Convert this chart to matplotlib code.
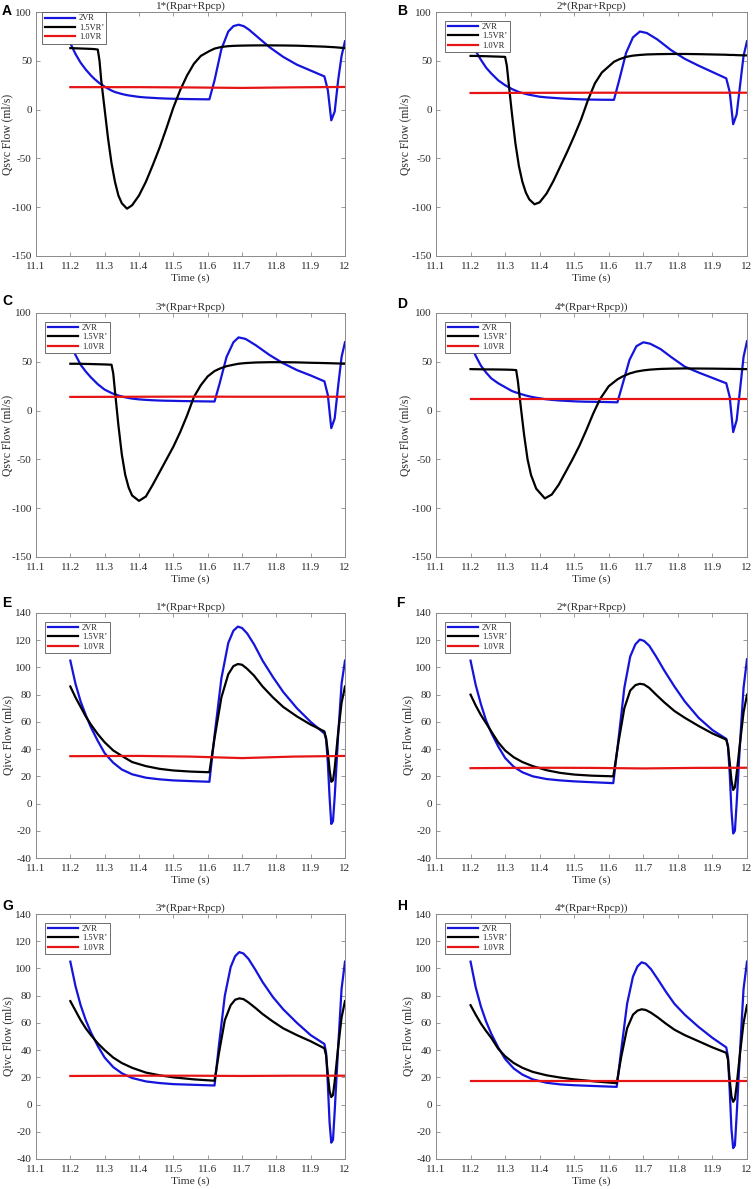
import matplotlib
matplotlib.use("Agg")
import matplotlib.pyplot as plt

# ---------------- STYLE ----------------
SERIF = "Liberation Serif"
TICK_FS = 8
LABEL_FS = 8.2
YLABEL_FS = 8.4
TITLE_FS = 8
LEGEND_FS = 6
LETTER_FS = 10
BLUE = "#1414dc"
BLACK = "#000000"
RED = "#e61414"
AXIS_GRAY = "#8a8a8a"
TEXT_GRAY = "#2a2a2a"

plt.rcParams["font.family"] = [SERIF, "DejaVu Serif"]
plt.rcParams["axes.unicode_minus"] = False

# ---------------- DATA ----------------
X_TICKS = [11.1, 11.2, 11.3, 11.4, 11.5, 11.6, 11.7, 11.8, 11.9, 12.0]
X_TICK_LABELS = ["11.1", "11.2", "11.3", "11.4", "11.5", "11.6", "11.7", "11.8", "11.9", "12"]
SVC_YTICKS = [-150, -100, -50, 0, 50, 100]
IVC_YTICKS = [-40, -20, 0, 20, 40, 60, 80, 100, 120, 140]

LEGEND_LABELS = ["2VR", "1.5VR\u2019", "1.0VR"]
TITLES = ["1*(Rpar+Rpcp)", "2*(Rpar+Rpcp)", "3*(Rpar+Rpcp)", "4*(Rpar+Rpcp))",
          "1*(Rpar+Rpcp)", "2*(Rpar+Rpcp)", "3*(Rpar+Rpcp)", "4*(Rpar+Rpcp))"]
LETTERS = ["A", "B", "C", "D", "E", "F", "G", "H"]

RED_T = [11.2, 11.4, 11.55, 11.7, 11.85, 12.0]

# --- A: Qsvc, 1*(Rpar+Rpcp)
T_A = [11.200, 11.215, 11.230, 11.245, 11.260, 11.270, 11.280, 11.285, 11.290, 11.300,
       11.310, 11.320, 11.330, 11.340, 11.350, 11.365, 11.380, 11.400, 11.420, 11.440,
       11.460, 11.480, 11.500, 11.520, 11.540, 11.560, 11.580, 11.605, 11.620, 11.640,
       11.660, 11.675, 11.690, 11.705, 11.720, 11.750, 11.780, 11.820, 11.860, 11.900,
       11.940, 11.950, 11.960, 11.970, 11.980, 11.990, 12.000]
VR2_A = [68, 57, 48, 41, 35, 31.5, 28.5, 27, 26, 23.5,
         21.5, 19.5, 18, 17, 16, 14.8, 14, 13, 12.4, 12,
         11.6, 11.3, 11.1, 11, 10.8, 10.7, 10.6, 10.5, 30, 62,
         80, 85.5, 87, 85.5, 82, 73, 64, 54, 46, 40,
         34, 20, -11, -2, 30, 55, 70]
VR15_A = [63, 62.8, 62.6, 62.4, 62.2, 62, 61.5, 50, 30, 0,
          -30, -55, -74, -88, -96, -101.5, -98, -88, -74, -57,
          -39, -19, 2, 20, 35, 47, 55, 60, 62.5, 64.2,
          65, 65.3, 65.5, 65.6, 65.7, 65.8, 65.8, 65.7, 65.5, 65,
          64.5, 64.3, 64.1, 63.9, 63.6, 63.3, 63]
VR10_A = [23, 23, 22.7, 22.2, 22.8, 23.2]

# --- B: Qsvc, 2*(Rpar+Rpcp)
T_B = [11.200, 11.215, 11.230, 11.245, 11.260, 11.280, 11.300, 11.305, 11.310, 11.320,
       11.330, 11.340, 11.350, 11.360, 11.370, 11.385, 11.400, 11.420, 11.440, 11.460,
       11.480, 11.500, 11.520, 11.540, 11.560, 11.580, 11.615, 11.630, 11.650, 11.670,
       11.690, 11.710, 11.740, 11.780, 11.820, 11.860, 11.900, 11.940, 11.950, 11.960,
       11.970, 11.980, 11.990, 12.000]
VR2_B = [68, 60, 51, 43, 37, 30, 25, 24, 23, 21,
         19.5, 18, 17, 16, 15.2, 14.2, 13.2, 12.5, 12, 11.5,
         11.1, 10.8, 10.5, 10.3, 10.2, 10.1, 10, 30, 58, 74,
         80, 78.5, 72, 61, 52, 45, 38.5, 32, 18, -15,
         -5, 25, 55, 70]
VR15_B = [55, 55, 54.8, 54.7, 54.5, 54.3, 54, 45, 28, -5,
          -35, -58, -74, -85, -92, -97, -95, -86, -73, -58,
          -43, -27, -10, 10, 27, 38, 49, 51.5, 54, 55.3,
          56, 56.5, 56.8, 57, 57, 56.8, 56.5, 56.2, 56, 56,
          55.8, 55.7, 55.6, 55.5]
VR10_B = [17, 17.2, 17.3, 17.3, 17.3, 17.3]

# --- C: Qsvc, 3*(Rpar+Rpcp)
T_C = [11.200, 11.215, 11.230, 11.245, 11.260, 11.280, 11.300, 11.320, 11.325, 11.330,
       11.340, 11.350, 11.360, 11.370, 11.380, 11.400, 11.420, 11.440, 11.460, 11.480,
       11.500, 11.520, 11.540, 11.560, 11.580, 11.600, 11.620, 11.635, 11.655, 11.675,
       11.690, 11.710, 11.740, 11.780, 11.820, 11.860, 11.900, 11.940, 11.950, 11.960,
       11.970, 11.980, 11.990, 12.000]
VR2_C = [68, 57, 47, 40, 34, 27, 21.5, 18, 17.3, 16.7,
         15.5, 14.5, 13.6, 12.9, 12.3, 11.5, 11, 10.6, 10.3, 10.1,
         10, 9.8, 9.7, 9.6, 9.5, 9.4, 9.3, 28, 55, 70,
         75, 73.5, 67, 57, 48.5, 41.5, 36, 30, 16, -18,
         -8, 25, 55, 70]
VR15_C = [48, 48, 48, 47.8, 47.7, 47.5, 47.3, 47, 38, 20,
          -15, -45, -66, -79, -87, -92.5, -88, -76, -63, -50,
          -37, -22, -5, 14, 26, 35, 40.5, 43, 45.5, 47,
          48, 48.7, 49.3, 49.6, 49.6, 49.4, 49, 48.7, 48.6, 48.5,
          48.4, 48.3, 48.1, 48]
VR10_C = [14, 14.2, 14.3, 14.2, 14.2, 14.2]

# --- D: Qsvc, 4*(Rpar+Rpcp)
T_D = [11.200, 11.215, 11.230, 11.245, 11.260, 11.280, 11.300, 11.320, 11.332, 11.337,
       11.345, 11.355, 11.365, 11.375, 11.390, 11.415, 11.435, 11.455, 11.475, 11.495,
       11.515, 11.535, 11.555, 11.575, 11.600, 11.625, 11.640, 11.660, 11.680, 11.700,
       11.720, 11.750, 11.780, 11.820, 11.860, 11.900, 11.940, 11.950, 11.960, 11.970,
       11.980, 11.990, 12.000]
VR2_D = [68, 56, 46, 39, 33, 28, 24, 20, 18.5, 18,
         17, 16, 15, 14.2, 13.2, 11.8, 11, 10.4, 10, 9.6,
         9.3, 9.1, 9, 8.9, 8.7, 8.5, 27, 52, 66, 70,
         68.5, 63, 55, 45, 39, 33.5, 28, 14, -22, -10,
         22, 55, 71]
VR15_D = [42.5, 42.4, 42.3, 42.2, 42.2, 42.1, 42, 41.8, 41.5, 30,
          5, -25, -50, -66, -80, -90, -86, -76, -63, -50,
          -36, -20, -3, 12, 25, 32, 35, 38, 40, 41.2,
          42, 42.7, 43, 43.2, 43.1, 43, 42.8, 42.8, 42.7, 42.7,
          42.6, 42.5, 42.5]
VR10_D = [12, 12, 12, 12, 12, 12]

# --- E: Qivc, 1*(Rpar+Rpcp)
T_E = [11.200, 11.215, 11.230, 11.245, 11.260, 11.280, 11.300, 11.325, 11.350, 11.380,
       11.420, 11.460, 11.500, 11.550, 11.605, 11.620, 11.640, 11.660, 11.675, 11.688,
       11.700, 11.715, 11.735, 11.760, 11.790, 11.820, 11.860, 11.900, 11.940, 11.945,
       11.950, 11.955, 11.960, 11.965, 11.970, 11.980, 11.990, 12.000]
VR2_E = [105, 88, 75, 65, 56, 46, 37, 30, 25, 21.5,
         19, 17.8, 17, 16.5, 16, 50, 92, 118, 127, 130,
         129, 125, 117, 105, 93, 82, 70, 60, 51.5, 47,
         30, 5, -15, -13, 5, 50, 88, 105]
VR15_E = [86, 78, 71, 64, 58, 51, 45, 39, 35, 30.5,
          27.5, 25.5, 24.3, 23.5, 23, 48, 78, 95, 101, 102.5,
          102, 99, 94, 86, 78, 71, 64, 58, 53, 48,
          38, 25, 16, 17, 26, 52, 74, 86]
VR10_E = [34.8, 35, 34.5, 33.4, 34.5, 35]

# --- F: Qivc, 2*(Rpar+Rpcp)
T_F = [11.200, 11.215, 11.230, 11.245, 11.260, 11.280, 11.300, 11.325, 11.350, 11.380,
       11.420, 11.460, 11.500, 11.550, 11.613, 11.628, 11.645, 11.662, 11.677, 11.690,
       11.702, 11.717, 11.737, 11.760, 11.790, 11.820, 11.860, 11.900, 11.940, 11.945,
       11.950, 11.955, 11.960, 11.965, 11.970, 11.980, 11.990, 12.000]
VR2_F = [105, 87, 73, 61, 52, 42, 33.5, 27, 23, 20,
         18, 17, 16.3, 15.7, 15, 47, 85, 108, 117, 120.5,
         119.5, 116, 108, 98, 86, 75, 63, 54, 47.5, 42,
         22, -5, -22, -20, 0, 45, 85, 106]
VR15_F = [80, 72, 65, 59, 53, 45, 39, 34, 30.5, 27.5,
          24.5, 22.5, 21.3, 20.5, 20, 45, 70, 83, 87, 88,
          87.5, 85, 80, 74.5, 68, 63, 57, 51.5, 47, 42,
          30, 17, 10, 12, 22, 45, 67, 80]
VR10_F = [26, 26.3, 26.2, 25.8, 26.2, 26.3]

# --- G: Qivc, 3*(Rpar+Rpcp)
T_G = [11.200, 11.215, 11.230, 11.245, 11.260, 11.280, 11.300, 11.325, 11.350, 11.380,
       11.420, 11.460, 11.500, 11.560, 11.620, 11.633, 11.650, 11.667, 11.680, 11.692,
       11.704, 11.719, 11.739, 11.760, 11.790, 11.820, 11.860, 11.900, 11.940, 11.945,
       11.950, 11.955, 11.960, 11.965, 11.970, 11.980, 11.990, 12.000]
VR2_G = [105, 87, 73, 62, 53, 43, 34.5, 27.5, 23, 19.5,
         17, 15.8, 15, 14.5, 14, 44, 80, 101, 109, 112,
         111, 107, 99, 90, 79, 70, 60, 51, 44.5, 38,
         15, -13, -28, -26, -5, 42, 85, 105]
VR15_G = [76, 69, 62, 56, 51, 45, 40, 34.5, 30.5, 27,
          23.5, 21.5, 20, 18.5, 17.5, 38, 62, 73, 77, 78,
          77.5, 75, 71, 66.5, 61, 56, 51, 46.5, 41.3, 36,
          22, 10, 5.5, 7, 17, 42, 64, 76]
VR10_G = [21, 21.2, 21.2, 21, 21.2, 21.2]

# --- H: Qivc, 4*(Rpar+Rpcp)
T_H = [11.200, 11.215, 11.230, 11.245, 11.260, 11.280, 11.300, 11.325, 11.350, 11.380,
       11.420, 11.460, 11.500, 11.560, 11.623, 11.636, 11.653, 11.670, 11.683, 11.695,
       11.707, 11.722, 11.742, 11.765, 11.790, 11.820, 11.860, 11.900, 11.940, 11.945,
       11.950, 11.955, 11.960, 11.965, 11.970, 11.980, 11.990, 12.000]
VR2_H = [105, 86, 72, 61, 52, 42, 33.5, 26.5, 22, 18.5,
         16, 14.8, 14.2, 13.6, 13, 40, 74, 94, 101.5, 104.5,
         103.5, 99.5, 92, 83, 74, 66, 57, 49, 42, 35,
         10, -18, -32, -30, -8, 40, 85, 105]
VR15_H = [73, 66, 59.5, 54, 49, 41, 35.5, 30.5, 27, 24,
          21.5, 19.8, 18.5, 17, 15.7, 35, 56, 66, 69, 70,
          69.5, 67.5, 64, 59.5, 55, 51, 46.5, 42, 38, 33,
          18, 6, 2, 4, 14, 38, 60, 73]
VR10_H = [17.5, 17.5, 17.5, 17.5, 17.5, 17.5]

# ---------------- LAYOUT (pixels of a 753x1189 canvas) ----------------
W, H = 753, 1189
COL_X = [(36, 345), (436, 747)]
ROW_Y = [(12, 256), (313, 557), (613, 858), (914, 1159)]
LETTER_POS = [(2, 4), (397, 4), (2, 294), (397, 297),
              (2, 596), (396, 596), (2, 899), (397, 899)]
YLABEL_X = [-0.075, -0.080, -0.075, -0.080, -0.069, -0.071, -0.069, -0.071]


def draw_panel(ax, t, vr2, vr15, vr10, title, ylabel, ylim, yticks, ylab_x, first=False):
    ax.plot(t, vr2, color=BLUE, lw=1.6, label=LEGEND_LABELS[0])
    ax.plot(t, vr15, color=BLACK, lw=1.6, label=LEGEND_LABELS[1])
    ax.plot(RED_T, vr10, color=RED, lw=1.6, label=LEGEND_LABELS[2])

    ax.set_xlim(11.1, 12.0)
    ax.set_ylim(*ylim)
    ax.set_xticks(X_TICKS)
    ax.set_xticklabels(X_TICK_LABELS)
    ax.set_yticks(yticks)
    ax.tick_params(direction="in", top=True, right=True, length=3,
                   width=0.6, color=AXIS_GRAY, labelsize=TICK_FS,
                   labelcolor=TEXT_GRAY)
    ax.tick_params(axis="x", pad=4)
    ax.tick_params(axis="y", pad=3)
    for s in ax.spines.values():
        s.set_color(AXIS_GRAY)
        s.set_linewidth(0.7)

    ax.set_title(title, fontsize=TITLE_FS, color=TEXT_GRAY, pad=2)
    ax.set_xlabel("Time (s)", fontsize=LABEL_FS, color=TEXT_GRAY, labelpad=2)
    ax.set_ylabel(ylabel, fontsize=YLABEL_FS, color=TEXT_GRAY)
    ax.yaxis.set_label_coords(ylab_x, 0.5)

    anchor = (0.02, 1.0) if first else (0.03, 0.965)
    leg = ax.legend(loc="upper left", bbox_to_anchor=anchor, borderaxespad=0,
                    fontsize=LEGEND_FS, handlelength=3.6, handletextpad=0.5,
                    borderpad=0.3, labelspacing=0.15, fancybox=False,
                    framealpha=1, edgecolor="#555555")
    leg.get_frame().set_linewidth(0.6)
    for txt in leg.get_texts():
        txt.set_color("#222222")


fig = plt.figure(figsize=(W / 100, H / 100), dpi=100)

panels = [
    (T_A, VR2_A, VR15_A, VR10_A),
    (T_B, VR2_B, VR15_B, VR10_B),
    (T_C, VR2_C, VR15_C, VR10_C),
    (T_D, VR2_D, VR15_D, VR10_D),
    (T_E, VR2_E, VR15_E, VR10_E),
    (T_F, VR2_F, VR15_F, VR10_F),
    (T_G, VR2_G, VR15_G, VR10_G),
    (T_H, VR2_H, VR15_H, VR10_H),
]

for i, (t, vr2, vr15, vr10) in enumerate(panels):
    row, col = i // 2, i % 2
    x0, x1 = COL_X[col]
    y0, y1 = ROW_Y[row]
    ax = fig.add_axes([x0 / W, 1 - y1 / H, (x1 - x0) / W, (y1 - y0) / H])
    if row < 2:
        draw_panel(ax, t, vr2, vr15, vr10, TITLES[i], "Qsvc Flow (ml/s)",
                   (-150, 100), SVC_YTICKS, YLABEL_X[i], first=(i == 0))
    else:
        draw_panel(ax, t, vr2, vr15, vr10, TITLES[i], "Qivc Flow (ml/s)",
                   (-40, 140), IVC_YTICKS, YLABEL_X[i])

    lx, ly = LETTER_POS[i]
    fig.text(lx / W, 1 - ly / H, LETTERS[i], fontsize=LETTER_FS,
             fontweight="bold", family="Liberation Sans", va="top", ha="left")

fig.savefig("out.png", dpi=100)
